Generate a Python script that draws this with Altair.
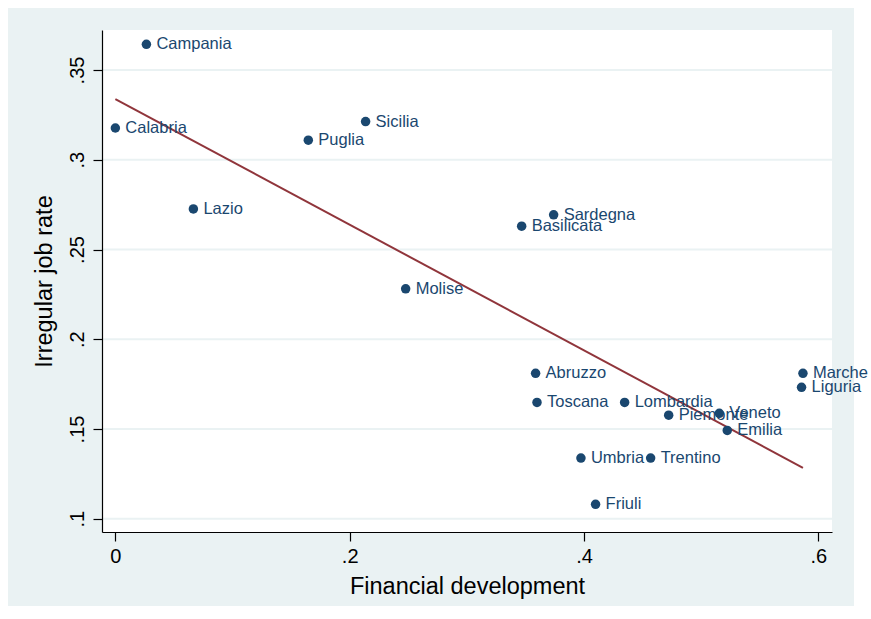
import altair as alt
import pandas as pd

# Italian regions: financial development vs. irregular job rate
regions = ["Campania", "Calabria", "Lazio", "Sicilia", "Puglia", "Sardegna",
           "Basilicata", "Molise", "Abruzzo", "Toscana", "Lombardia", "Piemonte",
           "Veneto", "Emilia", "Marche", "Liguria", "Umbria", "Trentino", "Friuli"]
fin_dev = [0.0265, 0.0, 0.0666, 0.2136, 0.1647, 0.3741,
           0.3468, 0.2478, 0.3587, 0.3599, 0.4347, 0.4723,
           0.5155, 0.5223, 0.5869, 0.5857, 0.3974, 0.4569, 0.4099]
irregular = [0.3643, 0.3177, 0.2726, 0.3213, 0.3109, 0.2693,
             0.2630, 0.2281, 0.1810, 0.1648, 0.1648, 0.1577,
             0.1587, 0.1492, 0.1810, 0.1732, 0.1338, 0.1338, 0.1080]

x_ticks = [0, 0.2, 0.4, 0.6]
y_ticks = [0.1, 0.15, 0.2, 0.25, 0.3, 0.35]

W, H = 730, 502
NAVY = "#1A476F"
MAROON = "#90353B"
PANEL = "#EAF2F3"
FONT = "Liberation Sans"

df = pd.DataFrame({"region": regions, "x": fin_dev, "y": irregular})
grid_df = pd.DataFrame({"y": y_ticks})
one = pd.DataFrame({"k": [0]})

x_scale = alt.Scale(domain=[-0.0114, 0.6117], nice=False, zero=False)
y_scale = alt.Scale(domain=[0.0926, 0.3723], nice=False, zero=False)

stata_fmt = "datum.value == 0 ? '0' : replace(format(datum.value, '.2~f'), '0.', '.')"

x_axis = alt.Axis(values=x_ticks, labelExpr=stata_fmt, title="Financial development",
                  labelPadding=5, titlePadding=8, zindex=1, grid=False)
y_axis = alt.Axis(values=y_ticks, labelExpr=stata_fmt, title="Irregular job rate",
                  labelAngle=270, labelAlign="center", labelBaseline="alphabetic",
                  labelPadding=10, titlePadding=11, zindex=1, grid=False)

X = alt.X("x:Q", scale=x_scale, axis=x_axis)
Y = alt.Y("y:Q", scale=y_scale, axis=y_axis)

# outer graph region and white plot region
panel = alt.Chart(one).mark_rect(color=PANEL).encode(
    x=alt.value(-94), x2=alt.value(752), y=alt.value(-22), y2=alt.value(576))
plot_bg = alt.Chart(one).mark_rect(color="white").encode(
    x=alt.value(0), x2=alt.value(W), y=alt.value(0), y2=alt.value(H))

grid = alt.Chart(grid_df).mark_rule(color=PANEL, strokeWidth=2).encode(
    y=Y, x=alt.value(0), x2=alt.value(W))

base = alt.Chart(df)

fit = base.transform_regression("x", "y", method="linear").mark_line(
    color=MAROON, strokeWidth=2).encode(x=X, y=Y)

points = base.mark_circle(color=NAVY, opacity=1, size=90).encode(x=X, y=Y)

labels = base.mark_text(align="left", baseline="middle", dx=10, font=FONT,
                        fontSize=16.5, color=NAVY).encode(
    x=X, y=Y, text="region:N")

chart = alt.layer(panel, plot_bg, grid, fit, points, labels).properties(
    width=W, height=H,
    autosize=alt.AutoSizeParams(type="none"),
    padding={"left": 102, "top": 30, "right": 39, "bottom": 87},
    background="white",
).configure_view(stroke=None).configure_axis(
    domainColor="black", domainWidth=1.2,
    tickColor="black", tickWidth=1.2, tickSize=9,
    labelFont=FONT, labelFontSize=20, labelColor="black",
    titleFont=FONT, titleFontSize=23.5, titleFontWeight="normal", titleColor="black",
)

chart.save("out.html", embed_options={"renderer": "svg", "actions": False})
